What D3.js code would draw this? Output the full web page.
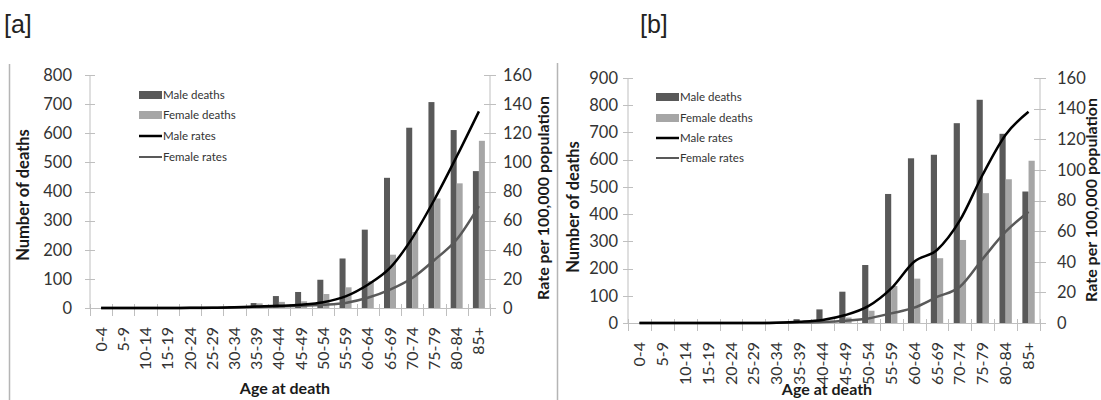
<!DOCTYPE html>
<html>
<head>
<meta charset="utf-8">
<script src="https://cdn.jsdelivr.net/npm/d3@7"></script>
<style>
  html, body { margin: 0; padding: 0; background: #fff; }
  svg { display: block; }
  text { font-family: Lato, "Open Sans", "Liberation Sans", sans-serif; }
</style>
</head>
<body>
<svg id="chart" width="1101" height="400"></svg>
<script>
// ---- Data ----
const ages = ["0-4","5-9","10-14","15-19","20-24","25-29","30-34","35-39","40-44","45-49","50-54","55-59","60-64","65-69","70-74","75-79","80-84","85+"];

const panelLabels = ["[a]", "[b]"];
const seriesNames = ["Male deaths", "Female deaths", "Male rates", "Female rates"];

const aMaleDeaths   = [0,0,0,0,1,3,6,17,41,55,97,170,269,447,619,707,611,470];
const aFemaleDeaths = [0,0,0,0,0,2,5,16,21,23,48,71,92,183,261,376,428,574];
const aMaleRates    = [0,0,0,0,0.1,0.2,0.5,1.0,1.5,2.3,4,8,16,27.5,48,74.5,104,135];
const aFemaleRates  = [0,0,0,0,0,0.1,0.3,0.7,1.1,1.5,2.2,3.5,7,12.6,20.6,33,47,70];
const aLeftTicks  = [0,100,200,300,400,500,600,700,800];
const aRightTicks = [0,20,40,60,80,100,120,140,160];

const bMaleDeaths   = [0,0,0,0,0,0,2,14,50,115,213,474,605,618,734,820,695,483];
const bFemaleDeaths = [0,0,0,0,0,0,1,5,8,20,45,136,163,238,305,477,528,596];
const bMaleRates    = [0,0,0,0,0,0,0.2,0.8,2,5.2,11,22.6,40,47.7,67,97,123,138];
const bFemaleRates  = [0,0,0,0,0,0,0.1,0.3,0.7,1.5,3,6.3,10,17,23.7,42,59.6,72.7];
const bLeftTicks  = [0,100,200,300,400,500,600,700,800,900];
const bRightTicks = [0,20,40,60,80,100,120,140,160];

// ---- Styles ----
const MALE_BAR = "#595959", FEMALE_BAR = "#a6a6a6";
const MALE_LINE = "#000000", FEMALE_LINE = "#595959";
const AXIS = "#bfbfbf", TXT = "#333333";

const svg = d3.select("#chart");

// frame lines
svg.append("line").attr("x1", 9.5).attr("x2", 9.5).attr("y1", 64).attr("y2", 400)
  .attr("stroke", "#b5b5b5").attr("stroke-width", 1.5);
svg.append("line").attr("x1", 557.5).attr("x2", 557.5).attr("y1", 63).attr("y2", 400)
  .attr("stroke", "#b5b5b5").attr("stroke-width", 1.5);

// panel labels
svg.append("text").attr("x", 4).attr("y", 33).text(panelLabels[0])
  .style("font-family", "'Liberation Sans Narrow','Liberation Sans',Arial,sans-serif")
  .style("font-size", "25px").attr("fill", "#222");
svg.append("text").attr("x", 640).attr("y", 33).text(panelLabels[1])
  .style("font-family", "'Liberation Sans Narrow','Liberation Sans',Arial,sans-serif")
  .style("font-size", "25px").attr("fill", "#222");

function drawPanel(cfg) {
  const g = svg.append("g");
  const x = d3.scaleBand().domain(ages).range([cfg.x0, cfg.x1])
    .paddingInner(0.46).paddingOuter(0.23);
  const yL = d3.scaleLinear().domain([0, cfg.leftMax]).range([cfg.yBottom, cfg.yTop]);
  const yR = d3.scaleLinear().domain([0, 160]).range([cfg.yBottom, cfg.yTop]);
  const bw = x.bandwidth() / 2;
  const step = (cfg.x1 - cfg.x0) / ages.length;

  // left axis
  g.append("line").attr("x1", cfg.x0).attr("x2", cfg.x0)
    .attr("y1", cfg.yTop).attr("y2", cfg.yBottom).attr("stroke", AXIS);
  cfg.leftTicks.forEach(t => {
    g.append("line").attr("x1", cfg.x0 - 5).attr("x2", cfg.x0 + 5)
      .attr("y1", Math.round(yL(t)) + 0.5).attr("y2", Math.round(yL(t)) + 0.5).attr("stroke", AXIS);
    g.append("text").attr("x", cfg.x0 - cfg.leftGap).attr("y", yL(t)).attr("dy", "0.35em")
      .attr("text-anchor", "end").style("font-size", "16.5px").attr("fill", TXT).text(t);
  });
  // right axis
  g.append("line").attr("x1", cfg.x1).attr("x2", cfg.x1)
    .attr("y1", cfg.yTop).attr("y2", cfg.yBottom).attr("stroke", AXIS);
  cfg.rightTicks.forEach(t => {
    g.append("line").attr("x1", cfg.x1 - 6).attr("x2", cfg.x1 + 6)
      .attr("y1", Math.round(yR(t)) + 0.5).attr("y2", Math.round(yR(t)) + 0.5).attr("stroke", AXIS);
    g.append("text").attr("x", cfg.x1 + cfg.rightGap).attr("y", yR(t)).attr("dy", "0.35em")
      .attr("text-anchor", "start").style("font-size", "16.5px").attr("fill", TXT).text(t);
  });

  // bars
  g.selectAll("rect.m").data(ages).enter().append("rect")
    .attr("x", d => x(d)).attr("width", bw)
    .attr("y", (d, i) => yL(cfg.male[i])).attr("height", (d, i) => cfg.yBottom - yL(cfg.male[i]))
    .attr("fill", MALE_BAR);
  g.selectAll("rect.f").data(ages).enter().append("rect")
    .attr("x", d => x(d) + bw).attr("width", bw)
    .attr("y", (d, i) => yL(cfg.female[i])).attr("height", (d, i) => cfg.yBottom - yL(cfg.female[i]))
    .attr("fill", FEMALE_BAR);

  // x axis
  g.append("line").attr("x1", cfg.x0).attr("x2", cfg.x1)
    .attr("y1", cfg.yBottom + 0.5).attr("y2", cfg.yBottom + 0.5).attr("stroke", AXIS);
  d3.range(ages.length + 1).forEach(i => {
    const xx = Math.round(cfg.x0 + i * step) + 0.5;
    g.append("line").attr("x1", xx).attr("x2", xx)
      .attr("y1", cfg.yBottom - 4).attr("y2", cfg.yBottom + 8).attr("stroke", AXIS);
  });
  ages.forEach(a => {
    const cx = x(a) + x.bandwidth() / 2;
    g.append("text")
      .attr("transform", `translate(${cx},${cfg.yBottom + 19}) rotate(-90)`)
      .attr("text-anchor", "end").attr("dy", "0.35em")
      .style("font-size", "16px").attr("fill", TXT).text(a);
  });

  // lines
  const lineGen = (vals) => d3.line()
    .x((d, i) => x(ages[i]) + x.bandwidth() / 2)
    .y(d => yR(d))
    .curve(d3.curveMonotoneX)(vals);
  g.append("path").attr("d", lineGen(cfg.femaleRate)).attr("fill", "none")
    .attr("stroke", FEMALE_LINE).attr("stroke-width", 2.5);
  g.append("path").attr("d", lineGen(cfg.maleRate)).attr("fill", "none")
    .attr("stroke", MALE_LINE).attr("stroke-width", 2.5);

  // axis titles
  g.append("text")
    .attr("transform", `translate(${cfg.leftTitleX},${cfg.leftTitleY}) rotate(-90)`)
    .attr("text-anchor", "middle").attr("dy", "0.35em")
    .style("font-size", "16.5px").style("font-weight", "bold").attr("fill", "#1a1a1a")
    .text("Number of deaths");
  g.append("text")
    .attr("transform", `translate(${cfg.rightTitleX},${cfg.rightTitleY}) rotate(-90)`)
    .attr("text-anchor", "middle").attr("dy", "0.35em")
    .style("font-size", "16px").style("font-weight", "bold").attr("fill", "#1a1a1a")
    .text("Rate per 100,000 population");
  g.append("text").attr("x", cfg.xTitleX).attr("y", cfg.xTitleY)
    .attr("text-anchor", "middle")
    .style("font-size", "16px").style("font-weight", "bold").attr("fill", "#1a1a1a")
    .text("Age at death");

  // legend
  const lg = g.append("g");
  seriesNames.forEach((name, i) => {
    const yy = cfg.legY[i];
    if (i < 2) {
      lg.append("rect").attr("x", cfg.legX).attr("y", yy - 4).attr("width", 23).attr("height", 8)
        .attr("fill", i === 0 ? MALE_BAR : FEMALE_BAR);
    } else {
      lg.append("line").attr("x1", cfg.legX).attr("x2", cfg.legX + 23)
        .attr("y1", yy).attr("y2", yy)
        .attr("stroke", i === 2 ? MALE_LINE : FEMALE_LINE).attr("stroke-width", i === 2 ? 2.5 : 2);
    }
    lg.append("text").attr("x", cfg.legX + 24).attr("y", yy).attr("dy", "0.35em")
      .style("font-size", "11.5px").attr("fill", TXT).text(name);
  });
}

drawPanel({
  x0: 90, x1: 490, yTop: 75, yBottom: 308, leftMax: 800,
  leftTicks: aLeftTicks, rightTicks: aRightTicks, leftGap: 18, rightGap: 13,
  male: aMaleDeaths, female: aFemaleDeaths, maleRate: aMaleRates, femaleRate: aFemaleRates,
  leftTitleX: 23, leftTitleY: 195, rightTitleX: 543, rightTitleY: 198,
  xTitleX: 285, xTitleY: 394,
  legX: 139, legY: [95, 115, 136, 157]
});

drawPanel({
  x0: 628, x1: 1040, yTop: 78, yBottom: 323, leftMax: 900,
  leftTicks: bLeftTicks, rightTicks: bRightTicks, leftGap: 10, rightGap: 17,
  male: bMaleDeaths, female: bFemaleDeaths, maleRate: bMaleRates, femaleRate: bFemaleRates,
  leftTitleX: 573, leftTitleY: 207, rightTitleX: 1091, rightTitleY: 200,
  xTitleX: 827, xTitleY: 395,
  legX: 656, legY: [97, 118, 138, 158]
});
</script>
</body>
</html>
